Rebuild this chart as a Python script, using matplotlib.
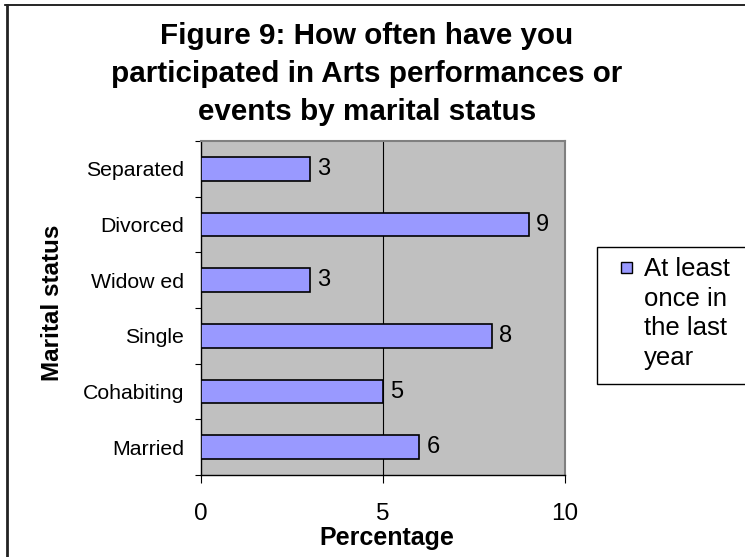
import matplotlib.pyplot as plt
from matplotlib.lines import Line2D
from matplotlib.patches import Rectangle

# data, bottom to top
categories = ["Married", "Cohabiting", "Single", "Widow ed", "Divorced", "Separated"]
values = [6, 5, 8, 3, 9, 3]
series_name = "At least\nonce in\nthe last\nyear"

plt.rcParams['font.family'] = ['Liberation Sans', 'DejaVu Sans']

W, H = 745, 557
fig = plt.figure(figsize=(W / 100, H / 100), dpi=100)


def fx(px):
    return px / W


def fy(py):
    return 1 - py / H


# plot area in pixel coords of the reference
left, right, top, bottom = 201, 565, 141, 475
ax = fig.add_axes([fx(left), fy(bottom), (right - left) / W, (bottom - top) / H])
ax.set_facecolor('#C0C0C0')

ypos = list(range(len(categories)))
ax.barh(ypos, values, height=0.43, color='#9999FF', edgecolor='black', linewidth=1.2, zorder=3)
for y, v in zip(ypos, values):
    ax.text(v + 0.2, y, str(v), va='center', ha='left', fontsize=17, zorder=4)

ax.set_xlim(0, 10)
ax.set_ylim(-0.5, len(categories) - 0.5)
ax.set_xticks([0, 5, 10])
ax.tick_params(axis='x', labelsize=17.5, length=6, pad=14, direction='out')
ax.axvline(5, color='black', linewidth=0.8, zorder=2)

# category labels between boundary ticks
ax.set_yticks([i - 0.5 for i in range(len(categories) + 1)])
ax.set_yticklabels([])
ax.tick_params(axis='y', length=4, direction='out')
ax.set_yticks(ypos, minor=True)
ax.set_yticklabels(categories, minor=True, fontsize=15.3)
ax.tick_params(axis='y', which='minor', length=0, pad=12)

for s in ['top', 'right']:
    ax.spines[s].set_color('#808080')
    ax.spines[s].set_linewidth(1.5)
for s in ['left', 'bottom']:
    ax.spines[s].set_color('black')
    ax.spines[s].set_linewidth(1)

fig.text(fx(387), fy(538), "Percentage", ha='center', va='center',
         fontsize=18, fontweight='bold')
fig.text(fx(53), fy(303), "Marital status", ha='center', va='center',
         rotation=90, fontsize=17.5, fontweight='bold')

fig.text(fx(367), fy(74),
         "Figure 9: How often have you\nparticipated in Arts performances or\nevents by marital status",
         ha='center', va='center', fontsize=21.3, fontweight='bold', linespacing=1.45)

# legend box, drawn by hand so it can run off the right edge like the reference
fig.add_artist(Rectangle((fx(597), fy(384)), (770 - 597) / W, (384 - 247) / H,
                         transform=fig.transFigure, facecolor='white',
                         edgecolor='black', linewidth=1, clip_on=False))
fig.add_artist(Rectangle((fx(621), fy(273)), 11 / W, 11 / H,
                         transform=fig.transFigure, facecolor='#9999FF',
                         edgecolor='black', linewidth=1))
fig.text(fx(644), fy(257), series_name, ha='left', va='top',
         fontsize=18.5, linespacing=1.3)

# chart border (only top and left visible in the crop)
fig.add_artist(Line2D([fx(5), 1], [fy(5), fy(5)], color='black', linewidth=1.2))
fig.add_artist(Line2D([fx(7), fx(7)], [0, fy(5)], color='#222222', linewidth=2))

fig.savefig('out.png', dpi=100)
